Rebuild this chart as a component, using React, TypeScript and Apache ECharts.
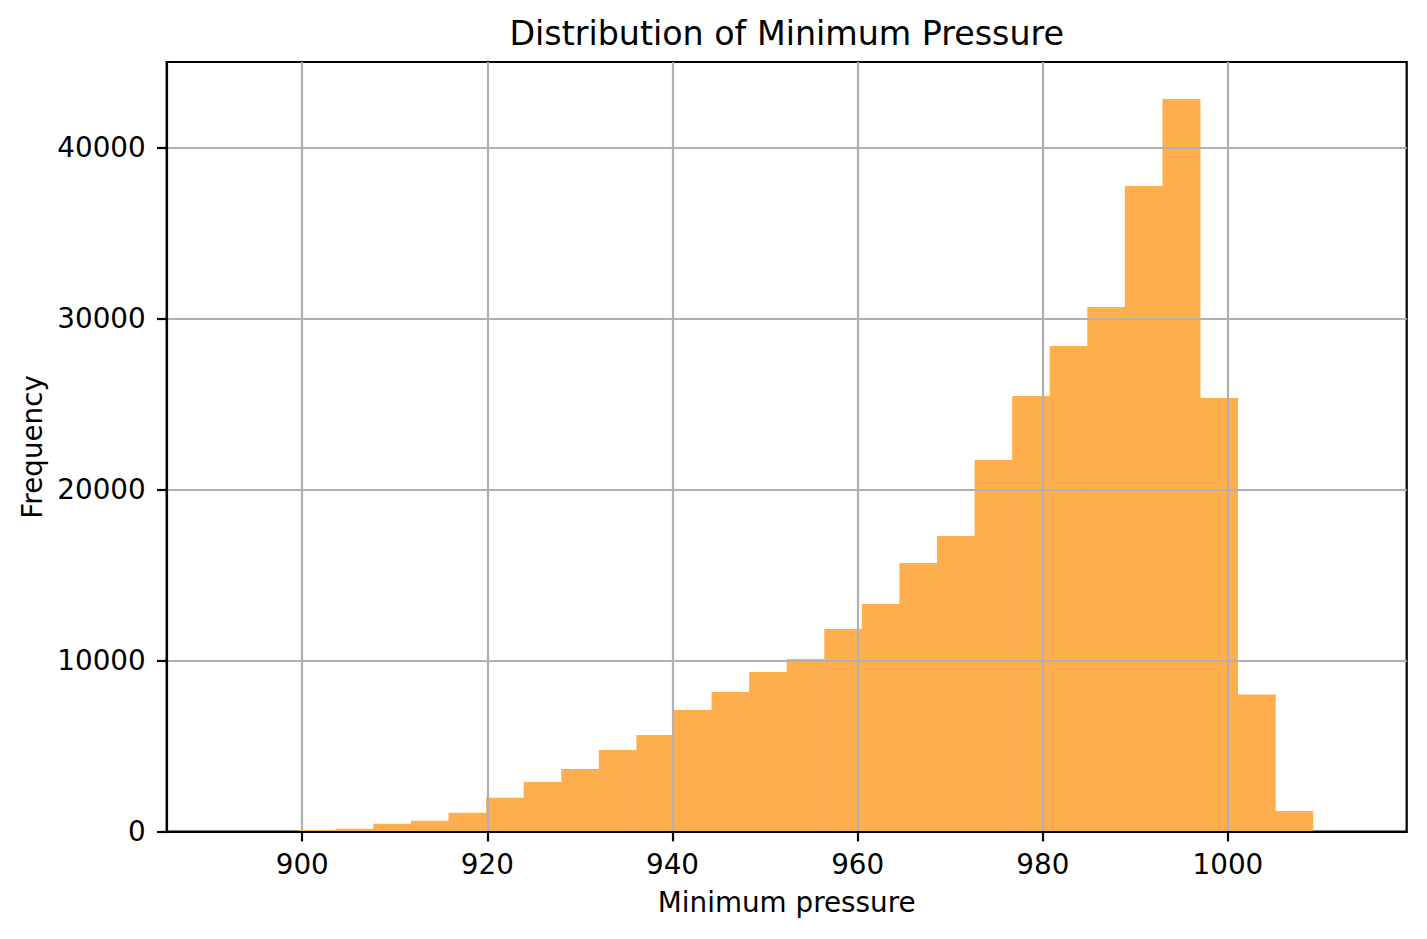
import React, { useEffect, useRef } from 'react';
import * as echarts from 'echarts';

// histogram of minimum pressure, 30 bins
const histMin = 891.45;
const histMax = 1013.22;
const binCounts = [
  2, 10, 100, 170, 460, 640, 1110, 1990, 2910, 3670,
  4780, 5660, 7120, 8170, 9350, 10100, 11860, 13320, 15720, 17300,
  21750, 25490, 28420, 30700, 37780, 42870, 25380, 8020, 1210, 15,
];
const xTicks = [900, 920, 940, 960, 980, 1000];
const yTicks = [0, 10000, 20000, 30000, 40000];
const xRange = [885.36, 1019.31];
const yRange = [0, 45030];

const FONT = 'DejaVu Sans';
const BAR_COLOR = '#FEAE4D';
const GRID_COLOR = '#b0b0b0';

const App: React.FC = () => {
  const chartRef = useRef<HTMLDivElement>(null);

  useEffect(() => {
    if (!chartRef.current) return;
    const chart = echarts.init(chartRef.current, null, { renderer: 'svg' });

    const binWidth = (histMax - histMin) / binCounts.length;
    const bins = binCounts.map((c, i) => [histMin + i * binWidth, histMin + (i + 1) * binWidth, c]);

    const tickText = { fontFamily: FONT, fontSize: 27.8, color: '#000' };
    const axisLine = { show: true, lineStyle: { color: '#000', width: 2.2 } };
    const axisTick = { show: true, length: 9.7, lineStyle: { color: '#000', width: 2.2 } };
    const plain = (v: number) => String(v);

    chart.setOption({
      animation: false,
      backgroundColor: '#fff',
      grid: {
        left: 166.7,
        right: 20.3,
        top: 62,
        bottom: 107.3,
        show: true,
        borderColor: '#000',
        borderWidth: 2.2,
        backgroundColor: 'transparent',
      },
      graphic: [
        {
          type: 'text',
          x: 786.7,
          y: 33.8,
          style: {
            text: 'Distribution of Minimum Pressure',
            fontFamily: FONT,
            fontSize: 33.3,
            fill: '#000',
            align: 'center',
            verticalAlign: 'middle',
          },
        },
      ],
      xAxis: {
        type: 'value',
        min: xRange[0],
        max: xRange[1],
        z: 6,
        name: 'Minimum pressure',
        nameLocation: 'middle',
        nameGap: 57,
        nameTextStyle: { ...tickText },
        axisLine,
        axisTick: { ...axisTick, customValues: xTicks },
        axisLabel: { ...tickText, margin: 19, customValues: xTicks, formatter: plain },
        splitLine: { show: false },
      },
      yAxis: {
        type: 'value',
        min: yRange[0],
        max: yRange[1],
        z: 6,
        name: 'Frequency',
        nameLocation: 'middle',
        nameRotate: 90,
        nameGap: 109,
        nameTextStyle: { ...tickText },
        axisLine,
        axisTick: { ...axisTick, customValues: yTicks },
        axisLabel: { ...tickText, margin: 21, padding: [5, 0, 0, 0], customValues: yTicks, formatter: plain },
        splitLine: { show: false },
      },
      series: [
        {
          type: 'custom',
          z: 2,
          data: bins,
          encode: { x: [0, 1], y: 2 },
          renderItem: (_params: any, api: any) => {
            const p0 = api.coord([api.value(0), api.value(2)]);
            const p1 = api.coord([api.value(1), 0]);
            // widen by half a pixel so neighbouring bars don't leave a seam
            return {
              type: 'rect',
              shape: { x: p0[0], y: p0[1], width: p1[0] - p0[0] + 0.5, height: p1[1] - p0[1] },
              style: { fill: BAR_COLOR },
            };
          },
          markLine: {
            silent: true,
            symbol: ['none', 'none'],
            label: { show: false },
            lineStyle: { color: GRID_COLOR, width: 2.2, type: 'solid' },
            data: [
              ...xTicks.map((v) => ({ xAxis: v })),
              ...yTicks.map((v) => ({ yAxis: v })),
            ],
          },
        },
      ],
    });

    return () => chart.dispose();
  }, []);

  return (
    <div
      ref={chartRef}
      style={{ position: 'fixed', left: 0, top: 0, width: 1427, height: 939, background: '#fff' }}
    />
  );
};

export default App;
